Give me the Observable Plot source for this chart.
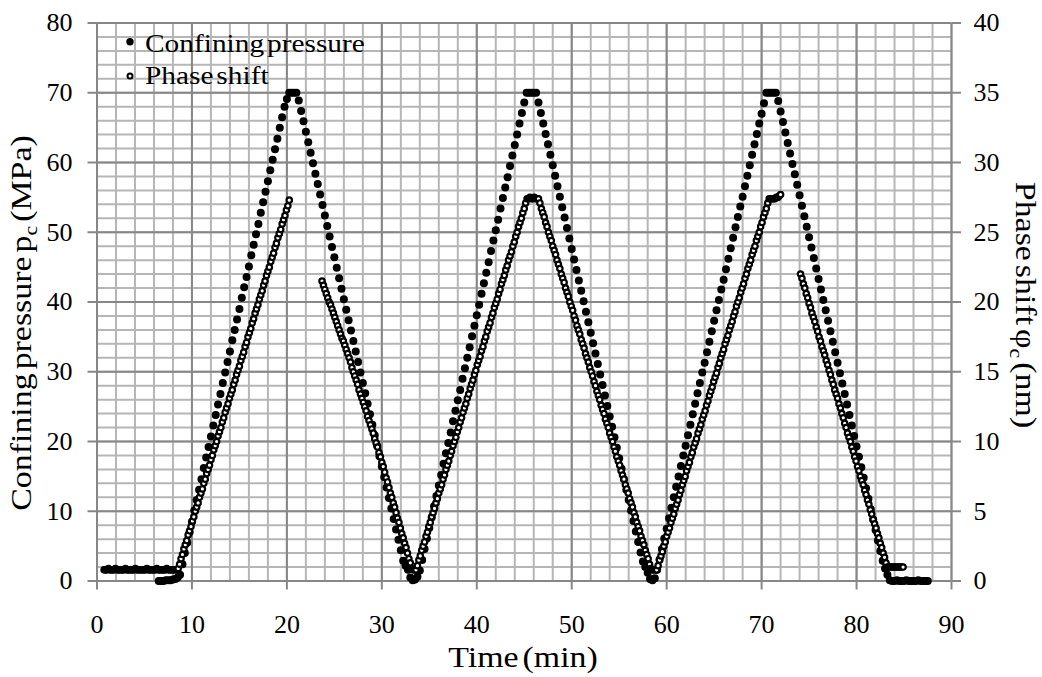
<!DOCTYPE html>
<html>
<head>
<meta charset="utf-8">
<script src="https://cdn.jsdelivr.net/npm/d3@7"></script>
<script src="https://cdn.jsdelivr.net/npm/@observablehq/plot@0.6"></script>
<style>
html, body { margin: 0; padding: 0; background: #ffffff; }
#chart svg { display: block; }
</style>
</head>
<body>
<div id="chart"></div>
<script>
// ---------------- data ----------------
const xTicks = [0, 10, 20, 30, 40, 50, 60, 70, 80, 90];
const yLeftTicks = [0, 10, 20, 30, 40, 50, 60, 70, 80];
const yRightTicks = [0, 5, 10, 15, 20, 25, 30, 35, 40];

const xLabel = "Time (min)";
const leftLabel = [{text: "Confining pressure p"}, {text: "c", sub: true}, {text: " (MPa)"}];
const rightLabel = [{text: "Phase shift \u03C6"}, {text: "c", sub: true}, {text: " (nm)"}];
const seriesNames = ["Confining pressure", "Phase shift"];

// Confining pressure (MPa), sampled every 0.25 min from t = 6.5 min
const pressureStart = 6.5;
const pressureStep = 0.25;
const pressureValues = [
  0.0, 0.0, 0.0, 0.1, 0.1, 0.1, 0.2, 0.3, 0.5,
  0.9, 2.4, 4.0, 5.5, 7.0, 8.5, 10.1, 11.6, 13.1, 14.6, 16.2, 17.7, 19.2, 20.7, 22.3,
  23.8, 25.3, 26.8, 28.4, 29.9, 31.4, 32.9, 34.5, 36.0, 37.5, 39.0, 40.6, 42.1, 43.6,
  45.1, 46.7, 48.2, 49.7, 51.2, 52.8, 54.3, 55.8, 57.3, 58.9, 60.4, 61.9, 63.4, 65.0,
  66.5, 68.0, 69.1,
  70.0, 70.0, 70.0, 70.0,
  68.9, 67.4, 65.9, 64.4, 62.9, 61.4, 59.9, 58.4, 56.9, 55.4, 53.9, 52.4, 50.9, 49.4,
  47.9, 46.4, 44.9, 43.4, 41.9, 40.4, 38.9, 37.4, 35.9, 34.4, 32.9, 31.4, 29.9, 28.4,
  26.9, 25.4, 23.9, 22.4, 20.9, 19.4, 17.9, 16.4, 14.9, 13.4, 11.9, 10.4, 8.9, 7.4,
  5.9, 4.4, 2.9,
  2.2, 1.6, 0.5, 0.1, 0.2, 0.6,
  1.5, 3.0, 4.6, 6.1, 7.6, 9.1, 10.7, 12.2, 13.7, 15.2, 16.8, 18.3, 19.8, 21.3, 22.9,
  24.4, 25.9, 27.4, 29.0, 30.5, 32.0, 33.5, 35.1, 36.6, 38.1, 39.6, 41.2, 42.7, 44.2,
  45.7, 47.3, 48.8, 50.3, 51.8, 53.4, 54.9, 56.4, 57.9, 59.5, 61.0, 62.5, 64.0, 65.6,
  67.1, 68.6,
  70.0, 70.0, 70.0, 70.0, 70.0,
  68.6, 67.1, 65.6, 64.1, 62.6, 61.1, 59.6, 58.1, 56.6, 55.1, 53.6, 52.1, 50.6, 49.1,
  47.6, 46.1, 44.6, 43.1, 41.6, 40.1, 38.6, 37.1, 35.6, 34.1, 32.6, 31.1, 29.6, 28.1,
  26.6, 25.1, 23.6, 22.1, 20.6, 19.1, 17.6, 16.1, 14.6, 13.1, 11.6, 10.1, 8.6, 7.1,
  5.6, 4.1,
  2.8, 2.0, 1.2, 0.3, 0.1, 0.4,
  1.6, 3.1, 4.6, 6.1, 7.5, 9.0, 10.5, 12.0, 13.5, 15.0, 16.5, 18.0, 19.4, 20.9, 22.4,
  23.9, 25.4, 26.9, 28.4, 29.9, 31.3, 32.8, 34.3, 35.8, 37.3, 38.8, 40.3, 41.8, 43.2,
  44.7, 46.2, 47.7, 49.2, 50.7, 52.2, 53.7, 55.1, 56.6, 58.1, 59.6, 61.1, 62.6, 64.1,
  65.6, 67.0, 68.5,
  70.0, 70.0, 70.0, 70.0, 70.0,
  68.8, 67.3, 65.8, 64.3, 62.8, 61.3, 59.8, 58.3, 56.8, 55.3, 53.8, 52.3, 50.8, 49.3,
  47.8, 46.3, 44.8, 43.3, 41.8, 40.3, 38.8, 37.3, 35.8, 34.3, 32.8, 31.3, 29.8, 28.3,
  26.8, 25.3, 23.8, 22.3, 20.8, 19.3, 17.8, 16.3, 14.8, 13.3, 11.8, 10.3, 8.8, 7.3,
  5.8, 4.3, 2.9,
  1.8, 0.9, 0.1,
  0.0, 0.0, 0.1, 0.0, 0.0, 0.0, 0.1, 0.0, 0.0, 0.0, 0.0, 0.1, 0.0, 0.0, 0.0, 0.0
];

// Phase shift (nm), sampled every 0.15 min from t = 0.75 min (null = no record)
const phaseStart = 0.75;
const phaseStep = 0.15;
const phaseValues = [
  0.8, 0.8, 0.8, 0.9, 0.8, 0.8, 0.8, 0.8, 0.9, 0.8, 0.8, 0.8, 0.8, 0.8, 0.8, 0.9, 0.8,
  0.8, 0.8, 0.8, 0.8, 0.8, 0.9, 0.8, 0.8, 0.8, 0.8, 0.8, 0.8, 0.8, 0.9, 0.8, 0.8, 0.8,
  0.8, 0.8, 0.8, 0.9, 0.8, 0.8, 0.8, 0.8, 0.8, 0.8, 0.9, 0.8, 0.8, 0.8, 0.8, 0.8, 0.8, 0.8,
  0.9, 1.2, 1.6, 1.9, 2.3, 2.6, 2.9, 3.3, 3.6, 3.9, 4.3, 4.6, 5.0, 5.3, 5.6, 6.0, 6.3,
  6.6, 7.0, 7.3, 7.7, 8.0, 8.3, 8.7, 9.0, 9.4, 9.7, 10.0, 10.4, 10.7, 11.0, 11.4, 11.7,
  12.1, 12.4, 12.7, 13.1, 13.4, 13.7, 14.1, 14.4, 14.8, 15.1, 15.4, 15.8, 16.1, 16.4,
  16.8, 17.1, 17.5, 17.8, 18.1, 18.5, 18.8, 19.2, 19.5, 19.8, 20.2, 20.5, 20.8, 21.2,
  21.5, 21.9, 22.2, 22.5, 22.9, 23.2, 23.5, 23.9, 24.2, 24.6, 24.9, 25.2, 25.6, 25.9,
  26.2, 26.6, 26.9, 27.3,
  null, null, null, null, null, null, null, null, null, null, null,
  null, null, null, null, null, null, null, null, null, null, null,
  21.5, 21.2, 20.9, 20.6, 20.3, 20.0, 19.8, 19.5, 19.2, 18.9, 18.6, 18.3, 18.0, 17.7,
  17.4, 17.2, 16.9, 16.6, 16.3, 16.0, 15.7, 15.3, 15.0, 14.7, 14.4, 14.1, 13.7, 13.4,
  13.1, 12.8, 12.5, 12.2, 11.8, 11.5, 11.2, 10.9, 10.6, 10.2, 9.9, 9.6, 9.2, 8.9, 8.5,
  8.2, 7.8, 7.4, 7.1, 6.7, 6.3, 6.0, 5.6, 5.3, 4.9, 4.5, 4.2, 3.8, 3.4, 3.1, 2.7, 2.4,
  2.0, 1.6, 1.3, 0.9,
  0.8, 0.8,
  0.8, 1.1, 1.5, 1.8, 2.2, 2.5, 2.8, 3.2, 3.5, 3.9, 4.2, 4.6, 4.9, 5.2, 5.6, 5.9, 6.3,
  6.6, 6.9, 7.3, 7.6, 8.0, 8.3, 8.6, 9.0, 9.3, 9.7, 10.0, 10.3, 10.7, 11.0, 11.4, 11.7,
  12.1, 12.4, 12.7, 13.1, 13.4, 13.8, 14.1, 14.4, 14.8, 15.1, 15.5, 15.8, 16.1, 16.5,
  16.8, 17.2, 17.5, 17.9, 18.2, 18.5, 18.9, 19.2, 19.6, 19.9, 20.2, 20.6, 20.9, 21.3,
  21.6, 21.9, 22.3, 22.6, 23.0, 23.3, 23.6, 24.0, 24.3, 24.7, 25.0, 25.4, 25.7, 26.0,
  26.4, 26.7, 27.1, 27.4,
  27.4, 27.5, 27.4, 27.4, 27.5, 27.4, 27.4, 27.4,
  27.1, 26.7, 26.4, 26.1, 25.7, 25.4, 25.0, 24.7, 24.4, 24.0, 23.7, 23.4, 23.0, 22.7,
  22.4, 22.0, 21.7, 21.4, 21.0, 20.7, 20.4, 20.0, 19.7, 19.4, 19.0, 18.7, 18.3, 18.0,
  17.7, 17.3, 17.0, 16.7, 16.3, 16.0, 15.7, 15.3, 15.0, 14.7, 14.3, 14.0, 13.6, 13.3,
  13.0, 12.6, 12.3, 12.0, 11.6, 11.3, 11.0, 10.6, 10.3, 10.0, 9.6, 9.3, 8.9, 8.6, 8.3,
  7.9, 7.6, 7.3, 6.9, 6.6, 6.3, 5.9, 5.6, 5.3, 4.9, 4.6, 4.2, 3.9, 3.6, 3.2, 2.9, 2.6,
  2.2, 1.9, 1.6, 1.2, 0.9,
  0.8, 0.8, 0.8,
  0.8, 1.1, 1.5, 1.8, 2.1, 2.5, 2.8, 3.2, 3.5, 3.8, 4.2, 4.5, 4.8, 5.2, 5.5, 5.8, 6.2,
  6.5, 6.9, 7.2, 7.5, 7.9, 8.2, 8.5, 8.9, 9.2, 9.6, 9.9, 10.2, 10.6, 10.9, 11.2, 11.6,
  11.9, 12.2, 12.6, 12.9, 13.3, 13.6, 13.9, 14.3, 14.6, 14.9, 15.3, 15.6, 16.0, 16.3,
  16.6, 17.0, 17.3, 17.6, 18.0, 18.3, 18.6, 19.0, 19.3, 19.7, 20.0, 20.3, 20.7, 21.0,
  21.3, 21.7, 22.0, 22.4, 22.7, 23.0, 23.4, 23.7, 24.0, 24.4, 24.7, 25.0, 25.4, 25.7,
  26.1, 26.4, 26.7, 27.1, 27.4,
  27.4, 27.4, 27.4, 27.4, 27.5, 27.5, 27.6, 27.7,
  null, null, null, null, null, null, null, null, null, null, null, null, null,
  22.0, 21.7, 21.3, 21.0, 20.6, 20.3, 19.9, 19.6, 19.2, 18.9, 18.6, 18.2, 17.9, 17.5,
  17.2, 16.8, 16.5, 16.2, 15.8, 15.5, 15.1, 14.8, 14.4, 14.1, 13.7, 13.4, 13.1, 12.7,
  12.4, 12.0, 11.7, 11.3, 11.0, 10.6, 10.3, 10.0, 9.6, 9.3, 8.9, 8.6, 8.2, 7.9, 7.5,
  7.2, 6.9, 6.5, 6.2, 5.8, 5.5, 5.1, 4.8, 4.4, 4.1, 3.8, 3.4, 3.1, 2.7, 2.4, 2.0, 1.7,
  1.3, 1.0,
  1.0, 1.0, 1.0, 1.0, 1.0, 1.0, 1.0, 1.0, 1.0, 1.0, 1.0
];

// ---------------- build ----------------
const FONT = "'Liberation Serif', 'Times New Roman', Times, serif";
const leftMax = yLeftTicks[yLeftTicks.length - 1];
const rightMax = yRightTicks[yRightTicks.length - 1];
const k = leftMax / rightMax; // right axis -> left axis units

const pressure = pressureValues.map((v, i) => ({t: pressureStart + i * pressureStep, v}));
const phase = phaseValues
  .map((v, i) => ({t: phaseStart + i * phaseStep, v}))
  .filter(d => d.v !== null);

const xMinor = d3.range(xTicks[0], xTicks[xTicks.length - 1] + 1, 2);
const yMinor = d3.range(yLeftTicks[0], leftMax + 1, 2);

const MINOR = "#b6b6b6";
const MAJOR = "#878787";

const plot = Plot.plot({
  width: 1042,
  height: 677,
  marginLeft: 96.5,
  marginRight: 91,
  marginTop: 22.5,
  marginBottom: 96.5,
  x: {domain: [xTicks[0], xTicks[xTicks.length - 1]]},
  y: {domain: [yLeftTicks[0], leftMax]},
  style: {fontFamily: FONT, fontSize: "26px", color: "#000", background: "#fff", overflow: "visible"},
  marks: [
    Plot.gridX(xMinor, {stroke: MINOR, strokeOpacity: 1, strokeWidth: 2}),
    Plot.gridY(yMinor, {stroke: MINOR, strokeOpacity: 1, strokeWidth: 2}),
    Plot.gridX(xTicks, {stroke: MAJOR, strokeOpacity: 1, strokeWidth: 2}),
    Plot.gridY(yLeftTicks, {stroke: MAJOR, strokeOpacity: 1, strokeWidth: 2}),
    Plot.axisX(xTicks, {anchor: "bottom", tickSize: 9, tickPadding: 24.5, stroke: MAJOR, strokeWidth: 2, fill: "#000", label: null}),
    Plot.axisY(yLeftTicks, {anchor: "left", tickSize: 9, tickPadding: 15.5, stroke: MAJOR, strokeWidth: 2, fill: "#000", label: null}),
    Plot.axisY(yRightTicks.map(d => d * k), {anchor: "right", tickSize: 9, tickPadding: 13, tickFormat: d => d / k, stroke: MAJOR, strokeWidth: 2, fill: "#000", label: null}),
    Plot.dot(pressure, {x: "t", y: "v", r: 4, fill: "#000", stroke: "none"}),
    Plot.dot(phase, {x: "t", y: d => d.v * k, r: 2.7, fill: "#fff", stroke: "#000", strokeWidth: 2.2})
  ]
});
document.getElementById("chart").appendChild(plot);

const svg = d3.select(plot);

function addText(parts, {x, y, rotate = 0, anchor = "middle", size = 30, stretch = 1.13}) {
  const t = svg.append("text")
    .attr("text-anchor", anchor)
    .attr("font-family", FONT)
    .attr("font-size", size)
    .attr("word-spacing", -4)
    .attr("fill", "#000")
    .attr("transform", `translate(${x},${y}) rotate(${rotate}) scale(${stretch},1)`);
  let back = 0;
  parts.forEach(p => {
    const ts = t.append("tspan").text(p.text);
    if (p.sub) {
      ts.attr("font-size", size * 0.65).attr("dy", size * 0.2);
      back = -size * 0.2;
    } else if (back) {
      ts.attr("dy", back);
      back = 0;
    }
  });
  return t;
}

// axis titles
addText([{text: xLabel}], {x: 523, y: 667, size: 30});
addText(leftLabel, {x: 31, y: 323, rotate: -90, size: 30});
addText(rightLabel, {x: 1016, y: 305, rotate: 90, size: 30});

// legend
svg.append("circle").attr("cx", 130).attr("cy", 41.7).attr("r", 3.7).attr("fill", "#000");
addText([{text: seriesNames[0]}], {x: 145, y: 51.5, anchor: "start", size: 26});
svg.append("circle").attr("cx", 130).attr("cy", 76).attr("r", 2.5).attr("fill", "#fff").attr("stroke", "#000").attr("stroke-width", 2);
addText([{text: seriesNames[1]}], {x: 145, y: 83.5, anchor: "start", size: 26});
</script>
</body>
</html>
